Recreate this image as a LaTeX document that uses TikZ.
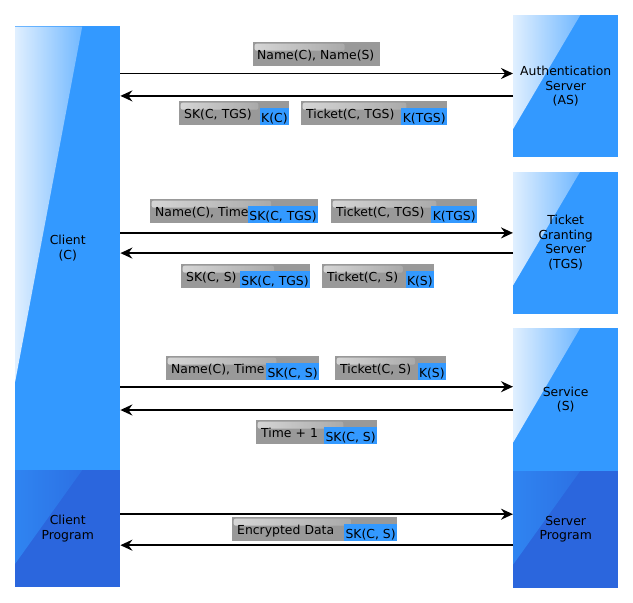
\documentclass[tikz,border=0pt]{standalone}
\usepackage{fontspec}
\setmainfont{DejaVu Sans}
\usetikzlibrary{calc,positioning,arrows.meta,fadings}

\definecolor{serverblue}{HTML}{3399FF}
\definecolor{progblue}{HTML}{2B66DD}
\definecolor{msggray}{HTML}{999999}
\tikzfading[name=glossfade, left color=transparent!0, middle color=transparent!65, right color=transparent!100]

\begin{document}
\begin{tikzpicture}[
    x=1pt, y=-1pt,
    font=\fontsize{12.4}{14.5}\selectfont,
    glossy/.style 2 args={path picture={
      \fill[#1, fill opacity=#2, path fading=glossfade]
        (path picture bounding box.north west) -- ++(67pt,0pt)
        -- ($(path picture bounding box.north west)!0.8!(path picture bounding box.south west)$)
        -- cycle;}},
    party/.style={rectangle, minimum width=105pt, inner sep=0pt, align=center},
    server/.style={party, fill=serverblue, glossy={white}{0.85}},
    program/.style={party, fill=progblue, glossy={serverblue}{0.6}},
    msg/.style={rectangle, anchor=north west, fill=msggray, text width=#1,
      minimum height=23.5pt, inner xsep=5pt, inner ysep=0pt, align=left,
      text height=12pt, text depth=0pt,
      path picture={
        \fill[white, fill opacity=0.6, path fading=glossfade, rounded corners=2pt]
          ([shift={(1.5pt,-1.5pt)}]path picture bounding box.north west) rectangle
          ($(path picture bounding box.north west)!0.72!(path picture bounding box.east)$);}},
    key/.style={rectangle, anchor=south east, fill=serverblue,
      minimum height=16.5pt, inner xsep=1.5pt, inner ysep=0pt,
      text height=12pt, text depth=0pt},
    flow/.style={-{Stealth[length=12pt, width=11pt, inset=4pt]}, line width=1.8pt, black},
  ]

  \useasboundingbox (0,0) rectangle (633,603);

  % parties
  \node (client)  [server, minimum height=444pt, anchor=north west] at (15,26) {Client\\(C)};
  \node (cprog)   [program, minimum height=117pt, below=-0.5pt of client] {Client\\Program};

  \node (as)      [server, minimum height=142pt, anchor=north west] at (513,15) {Authentication\\Server\\(AS)};
  \node (tgs)     [server, minimum height=142pt, below=14pt of as]  {Ticket\\Granting\\Server\\(TGS)};
  \node (svc)     [server, minimum height=143pt, below=14pt of tgs] {Service\\(S)};
  \node (sprog)   [program, minimum height=117pt, below=-0.5pt of svc] {Server\\Program};

  % arrow heights
  \coordinate (as req)    at ([yshift=12.7pt]as.west);
  \coordinate (as rep)    at ([yshift=-9.7pt]as.west);
  \coordinate (tgs req)   at ([yshift=9.7pt]tgs.west);
  \coordinate (tgs rep)   at ([yshift=-10.5pt]tgs.west);
  \coordinate (svc req)   at ([yshift=12.8pt]svc.west);
  \coordinate (svc rep)   at ([yshift=-10.5pt]svc.west);
  \coordinate (prog req)  at ([yshift=15.2pt]sprog.west);
  \coordinate (prog rep)  at ([yshift=-15.8pt]sprog.west);

  % flow
  \draw[flow]  (client.east |- as req) -- (as req);
  \draw[flow]  (as rep) -- (client.east |- as rep);
  \draw[flow]  (client.east |- tgs req) -- (tgs req);
  \draw[flow]  (tgs rep) -- (client.east |- tgs rep);
  \draw[flow]  (client.east |- svc req) -- (svc req);
  \draw[flow]  (svc rep) -- (client.east |- svc rep);
  \draw[flow]  (cprog.east |- prog req) -- (prog req);
  \draw[flow]  (prog rep) -- (cprog.east |- prog rep);

  % messages
  \node (asreq)     [msg=119pt, inner xsep=4pt] at (253,42)  {Name(C), Name(S)};

  \node (asrep1)    [msg=100pt] at (179,101) {SK(C, TGS)};
  \node (asrep1 k)  [key] at (asrep1.south east) {K(C)};
  \node (asrep2)    [msg=136pt] at (301,101) {Ticket(C, TGS)};
  \node (asrep2 k)  [key] at (asrep2.south east) {K(TGS)};

  \node (tgsreq1)   [msg=158pt] at (150,199) {Name(C), Time};
  \node (tgsreq1 k) [key] at (tgsreq1.south east) {SK(C, TGS)};
  \node (tgsreq2)   [msg=136pt] at (331,199) {Ticket(C, TGS)};
  \node (tgsreq2 k) [key] at (tgsreq2.south east) {K(TGS)};

  \node (tgsrep1)   [msg=119pt] at (181,264) {SK(C, S)};
  \node (tgsrep1 k) [key] at (tgsrep1.south east) {SK(C, TGS)};
  \node (tgsrep2)   [msg=102pt] at (322,264) {Ticket(C, S)};
  \node (tgsrep2 k) [key] at (tgsrep2.south east) {K(S)};

  \node (svcreq1)   [msg=143pt] at (166,356) {Name(C), Time};
  \node (svcreq1 k) [key] at (svcreq1.south east) {SK(C, S)};
  \node (svcreq2)   [msg=101pt] at (335,356) {Ticket(C, S)};
  \node (svcreq2 k) [key] at (svcreq2.south east) {K(S)};

  \node (svcrep)    [msg=111pt] at (256,420) {Time + 1};
  \node (svcrep k)  [key] at (svcrep.south east) {SK(C, S)};

  \node (data)      [msg=155pt] at (232,517) {Encrypted Data};
  \node (data k)    [key] at (data.south east) {SK(C, S)};

\end{tikzpicture}
\end{document}
